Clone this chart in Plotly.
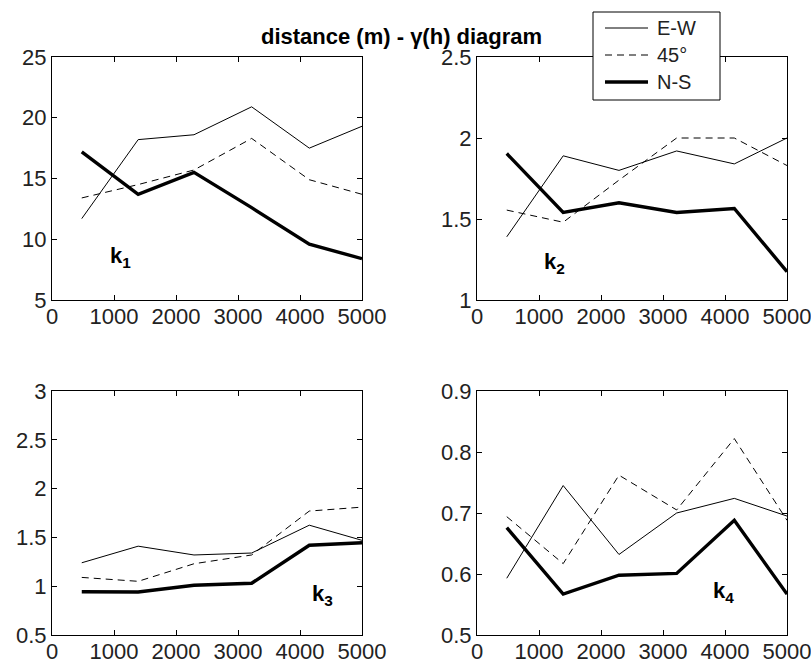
import plotly.graph_objects as go
from plotly.subplots import make_subplots

lags = [480, 1390, 2290, 3220, 4150, 5000]

k1_ew = [11.7, 18.2, 18.6, 20.9, 17.5, 19.3]
k1_45 = [13.4, 14.5, 15.7, 18.3, 14.9, 13.7]
k1_ns = [17.2, 13.7, 15.5, 12.6, 9.6, 8.4]

k2_ew = [1.39, 1.89, 1.80, 1.92, 1.84, 2.00]
k2_45 = [1.555, 1.48, 1.74, 2.00, 2.00, 1.83]
k2_ns = [1.904, 1.54, 1.60, 1.54, 1.565, 1.175]

k3_ew = [1.24, 1.41, 1.32, 1.34, 1.625, 1.47]
k3_45 = [1.09, 1.05, 1.23, 1.32, 1.77, 1.81]
k3_ns = [0.943, 0.94, 1.01, 1.03, 1.42, 1.445]

k4_ew = [0.593, 0.745, 0.632, 0.700, 0.724, 0.695]
k4_45 = [0.694, 0.617, 0.762, 0.705, 0.822, 0.688]
k4_ns = [0.676, 0.567, 0.598, 0.601, 0.688, 0.567]

series_names = ["E-W", "45°", "N-S"]
panels = [
    (1, 1, [k1_ew, k1_45, k1_ns], [5, 25], 5, "k<sub>1</sub>", 1100, 8.55),
    (1, 2, [k2_ew, k2_45, k2_ns], [1, 2.5], 0.5, "k<sub>2</sub>", 1250, 1.23),
    (2, 1, [k3_ew, k3_45, k3_ns], [0.5, 3], 0.5, "k<sub>3</sub>", 4370, 0.91),
    (2, 2, [k4_ew, k4_45, k4_ns], [0.5, 0.9], 0.1, "k<sub>4</sub>", 3970, 0.57),
]

styles = [
    dict(color="black", width=1, dash="solid"),
    dict(color="black", width=1, dash="7px,5px"),
    dict(color="black", width=3.4, dash="solid"),
]

TICKFONT = "Liberation Sans Narrow, Liberation Sans, Arial, sans-serif"

fig = make_subplots(rows=2, cols=2, horizontal_spacing=0.14, vertical_spacing=0.1)

for (r, c, data, yr, dy, lab, lx, ly) in panels:
    for i, ys in enumerate(data):
        fig.add_trace(
            go.Scatter(x=lags, y=ys, mode="lines", line=styles[i],
                       name=series_names[i], showlegend=False, cliponaxis=True),
            row=r, col=c)
    fig.update_xaxes(range=[0, 5000], dtick=1000, tick0=0, row=r, col=c)
    fig.update_yaxes(range=yr, dtick=dy, tick0=yr[0], row=r, col=c)
    idx = (r - 1) * 2 + c
    xref = "x" if idx == 1 else f"x{idx}"
    yref = "y" if idx == 1 else f"y{idx}"
    fig.add_annotation(x=lx, y=ly, xref=xref, yref=yref, text=f"<b>{lab}</b>",
                       showarrow=False, font=dict(size=22, color="black", family="Liberation Sans"))

axis_common = dict(showgrid=False, zeroline=False, showline=True, linecolor="black", linewidth=1,
                   mirror="ticks", ticks="inside", ticklen=5, tickcolor="black", automargin=False,
                   ticklabeloverflow="allow",
                   tickfont=dict(size=22, color="#222", family=TICKFONT))
fig.update_xaxes(**axis_common, ticklabelstandoff=-3)
fig.update_yaxes(**axis_common)

W, H = 811, 664
xl = [52 / W, 362 / W]
xr = [477 / W, 787 / W]
yt = [(H - 300) / H, (H - 57) / H]
yb = [(H - 635) / H, (H - 391) / H]
fig.update_layout(
    xaxis=dict(domain=xl), yaxis=dict(domain=yt),
    xaxis2=dict(domain=xr), yaxis2=dict(domain=yt),
    xaxis3=dict(domain=xl), yaxis3=dict(domain=yb),
    xaxis4=dict(domain=xr), yaxis4=dict(domain=yb),
)

fig.add_annotation(x=401 / W, y=1 - 22 / H, xref="paper", yref="paper",
                   text="<b>distance (m) - γ(h) diagram</b>", showarrow=False,
                   font=dict(size=22, color="black", family="Liberation Sans"))

def px(x):
    return x / W

def py(y):
    return 1 - y / H

# legend box drawn in paper coordinates
fig.add_shape(type="rect", xref="paper", yref="paper",
              x0=px(593), x1=px(720), y0=py(100), y1=py(12),
              fillcolor="white", line=dict(color="black", width=1), layer="above")
leg_rows = [28, 55, 82]
for i, name in enumerate(series_names):
    fig.add_shape(type="line", xref="paper", yref="paper",
                  x0=px(605), x1=px(648), y0=py(leg_rows[i]), y1=py(leg_rows[i]),
                  line=styles[i], layer="above")
    fig.add_annotation(x=px(656), y=py(leg_rows[i]), xref="paper", yref="paper",
                       text=name, showarrow=False, xanchor="left", yanchor="middle",
                       align="left", borderpad=0,
                       font=dict(size=20, color="#222", family="Liberation Sans"))

fig.update_layout(
    width=W, height=H,
    margin=dict(l=0, r=0, t=0, b=0),
    paper_bgcolor="white", plot_bgcolor="white",
    font=dict(family="Liberation Sans", color="black"),
    showlegend=False,
)

fig.write_html("out.html", config={"displayModeBar": False},
               post_script="document.body.style.margin='0';document.body.style.overflow='hidden';")
